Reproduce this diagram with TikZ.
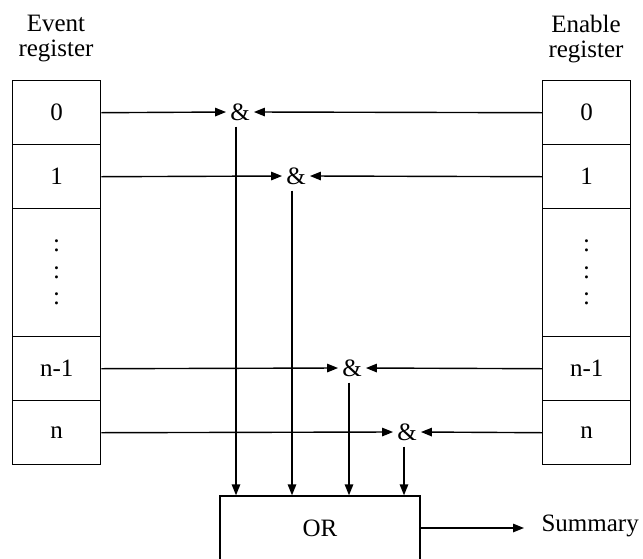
\documentclass[tikz,border=0pt]{standalone}
\usepackage{fontspec}
\setmainfont{Liberation Serif}
\usetikzlibrary{arrows.meta}
\begin{document}
\begin{tikzpicture}[x=1pt,y=-1pt,
  every node/.style={font=\fontsize{25}{25}\selectfont},
  cell/.style={draw, line width=1.4pt, minimum width=88pt, minimum height=64pt, inner sep=0pt, anchor=north west},
  gate/.style={inner xsep=4pt, inner ysep=6pt},
  arr/.style={line width=1.4pt, -{Triangle[length=11pt,width=8.5pt]}},
  ]
\useasboundingbox (0,0) rectangle (643,558);
\clip (0,0) rectangle (643,558);
% headers
\node[align=center] (evt) at (56,39) {Event\\register};
\node[align=center] (ena) at (586,39) {Enable\\register};
% event register
\node[cell] (L0) at (12,80) {0};
\node[cell] (L1) at (12,144) {1};
\node[cell, minimum height=128pt] (Ld) at (12,208) {};
\node[cell] (Ln1) at (12,336) {n-1};
\node[cell] (Ln) at (12,400) {n};
\node[align=center, font=\fontsize{25}{26.5}\selectfont] (Ldots) at (Ld.center) {:\\:\\:};
% enable register
\node[cell] (R0) at (542,80) {0};
\node[cell] (R1) at (542,144) {1};
\node[cell, minimum height=128pt] (Rd) at (542,208) {};
\node[cell] (Rn1) at (542,336) {n-1};
\node[cell] (Rn) at (542,400) {n};
\node[align=center, font=\fontsize{25}{26.5}\selectfont] (Rdots) at (Rd.center) {:\\:\\:};
% gates
\node[gate] (g0) at (240,112) {\&};
\node[gate] (g1) at (296,176) {\&};
\node[gate] (g2) at (352,368) {\&};
\node[gate] (g3) at (407,432) {\&};
% OR
\node[draw, line width=1.4pt, minimum width=200pt, minimum height=64pt, inner sep=0pt] (or) at (320,528) {OR};
\node[anchor=west] (sum) at (538,526) {Summary};
% connectors
\draw[arr] (L0.east) -- (g0.west);
\draw[arr] (R0.west) -- (g0.east);
\draw[arr] (L1.east) -- (g1.west);
\draw[arr] (R1.west) -- (g1.east);
\draw[arr] (Ln1.east) -- (g2.west);
\draw[arr] (Rn1.west) -- (g2.east);
\draw[arr] (Ln.east) -- (g3.west);
\draw[arr] (Rn.west) -- (g3.east);
\draw[arr] ([xshift=-4pt]g0.south) -- ([xshift=-4pt]g0.south |- or.north);
\draw[arr] ([xshift=-4pt]g1.south) -- ([xshift=-4pt]g1.south |- or.north);
\draw[arr] ([xshift=-3pt]g2.south) -- ([xshift=-3pt]g2.south |- or.north);
\draw[arr] ([xshift=-3pt]g3.south) -- ([xshift=-3pt]g3.south |- or.north);
\draw[arr] (or.east) -- ([xshift=-14pt]sum.west |- or.east);
\end{tikzpicture}
\end{document}
